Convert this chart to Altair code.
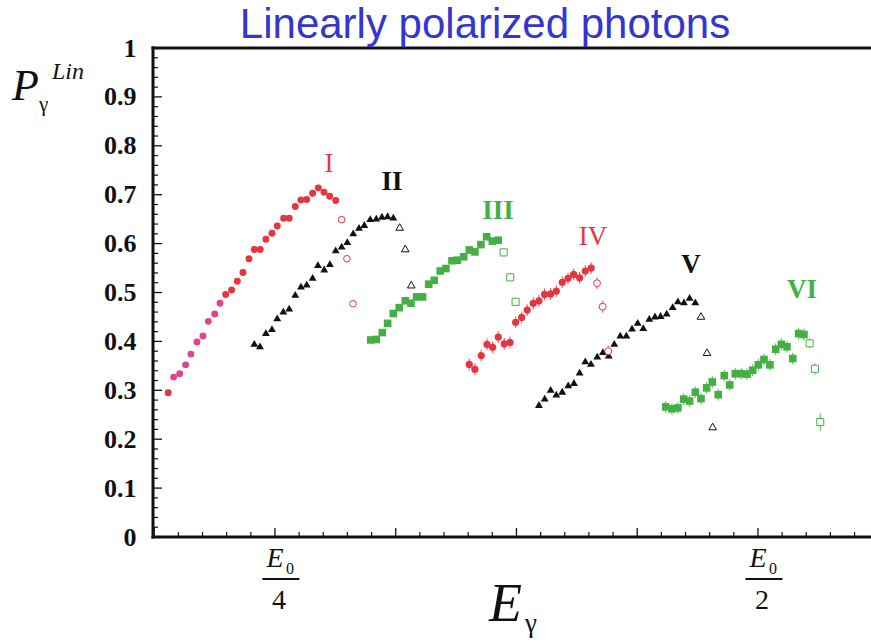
import altair as alt
import pandas as pd
import numpy as np

# ---------------- data (x in units of E0/16, so E0/4 = 4 and E0/2 = 8) -------------
I_x = [3.116, 3.161, 3.211, 3.260, 3.304, 3.354, 3.404, 3.448, 3.501, 3.545, 3.592, 3.641,
       3.688, 3.735, 3.785, 3.829, 3.878, 3.925, 3.975, 4.019, 4.072, 4.118, 4.168, 4.215,
       4.263, 4.312, 4.359, 4.406, 4.453, 4.503]
I_y = [0.295, 0.327, 0.334, 0.352, 0.374, 0.399, 0.411, 0.441, 0.456, 0.478, 0.496, 0.505,
       0.523, 0.541, 0.569, 0.588, 0.588, 0.609, 0.621, 0.636, 0.652, 0.652, 0.676, 0.689,
       0.690, 0.703, 0.714, 0.705, 0.697, 0.688]
I_pink = [0, 1, 1, 1, 1, 1, 1, 1, 1, 1, 0, 0, 0, 0, 0, 0, 0, 0, 0, 0, 0, 0, 0, 0, 0, 0, 0, 0, 0, 0]
I_open_x = [4.552, 4.596, 4.646]
I_open_y = [0.649, 0.569, 0.477]

II_x = [3.829, 3.876, 3.925, 3.975, 4.019, 4.069, 4.118, 4.168, 4.215, 4.263, 4.312, 4.356,
        4.408, 4.455, 4.503, 4.552, 4.599, 4.648, 4.696, 4.740, 4.789, 4.839, 4.886, 4.933, 4.980]
II_y = [0.396, 0.391, 0.418, 0.426, 0.448, 0.462, 0.468, 0.496, 0.513, 0.517, 0.531, 0.557,
        0.548, 0.559, 0.587, 0.595, 0.604, 0.622, 0.633, 0.639, 0.651, 0.652, 0.656, 0.657, 0.654]
II_open_x = [5.033, 5.079, 5.129]
II_open_y = [0.634, 0.590, 0.516]

III_x = [4.793, 4.839, 4.889, 4.933, 4.980, 5.029, 5.079, 5.126, 5.173, 5.223, 5.273, 5.319,
         5.369, 5.416, 5.466, 5.510, 5.563, 5.609, 5.656, 5.706, 5.753, 5.800, 5.849]
III_y = [0.403, 0.404, 0.418, 0.437, 0.457, 0.469, 0.483, 0.478, 0.491, 0.491, 0.517, 0.525,
         0.544, 0.549, 0.565, 0.566, 0.573, 0.587, 0.583, 0.598, 0.614, 0.605, 0.607]
III_open_x = [5.894, 5.948, 5.993]
III_open_y = [0.582, 0.531, 0.481]

IV_x = [5.609, 5.656, 5.708, 5.756, 5.803, 5.849, 5.899, 5.946, 5.993, 6.043, 6.089, 6.139,
        6.186, 6.233, 6.283, 6.330, 6.379, 6.427, 6.474, 6.523, 6.570, 6.619]
IV_y = [0.353, 0.343, 0.371, 0.394, 0.388, 0.409, 0.395, 0.398, 0.439, 0.449, 0.464, 0.478,
        0.483, 0.496, 0.497, 0.503, 0.521, 0.529, 0.537, 0.530, 0.544, 0.550]
IV_open_x = [6.667, 6.714, 6.760]
IV_open_y = [0.519, 0.471, 0.380]

V_x = [6.186, 6.234, 6.283, 6.330, 6.379, 6.429, 6.476, 6.523, 6.570, 6.617, 6.669, 6.716,
       6.764, 6.810, 6.860, 6.910, 6.957, 7.004, 7.050, 7.100, 7.147, 7.194, 7.244, 7.294,
       7.337, 7.387, 7.434, 7.481]
V_y = [0.271, 0.284, 0.302, 0.292, 0.298, 0.311, 0.316, 0.337, 0.360, 0.355, 0.370, 0.379,
       0.372, 0.396, 0.413, 0.413, 0.427, 0.439, 0.428, 0.447, 0.452, 0.453, 0.458, 0.471,
       0.483, 0.481, 0.490, 0.481]
V_open_x = [7.528, 7.578, 7.625]
V_open_y = [0.452, 0.378, 0.226]

VI_x = [7.236, 7.288, 7.337, 7.385, 7.434, 7.481, 7.528, 7.575, 7.622, 7.671, 7.721, 7.766,
        7.812, 7.862, 7.909, 7.956, 8.003, 8.050, 8.099, 8.147, 8.194, 8.240, 8.288, 8.337, 8.381]
VI_y = [0.266, 0.262, 0.264, 0.282, 0.278, 0.296, 0.283, 0.305, 0.317, 0.291, 0.330, 0.311,
        0.334, 0.334, 0.333, 0.341, 0.352, 0.363, 0.352, 0.384, 0.394, 0.389, 0.365, 0.416, 0.414]
VI_open_x = [8.428, 8.472, 8.516]
VI_open_y = [0.396, 0.344, 0.235]
VI_open_err = [0.010, 0.012, 0.018]

ERR_IV = 0.012
ERR_VI = 0.012
ERR_III_OPEN = 0.008

labels_text = ["I", "II", "III", "IV", "V", "VI"]
labels_x = [4.447, 4.969, 5.847, 6.634, 7.445, 8.364]
labels_y = [0.746, 0.710, 0.650, 0.597, 0.540, 0.489]

frac_x = [4, 8]
frac_den = ["4", "2"]

y_major = [round(v, 1) for v in np.arange(0, 1.01, 0.1)]
y_minor = [round(v, 2) for v in np.arange(0, 1.001, 0.02) if round(v * 50) % 5 != 0]
x_major = [3, 4, 5, 6, 7, 8]
x_minor = [round(v, 1) for v in np.arange(3.0, 8.95, 0.2) if abs(v - round(v)) > 0.01]

# ---------------- styling ----------------
RED = "#e5363f"
PINK = "#e0438f"
GREEN = "#44b044"
BLACK = "#111111"
SERIF = "Liberation Serif"

W, H = 718, 489
XD = [2.99, 2.99 + W / 120.75]

rows = []


def add(xs, ys, kind, color, shape, size, err=0.0, colors=None, errs=None):
    for i, (a, b) in enumerate(zip(xs, ys)):
        e = errs[i] if errs is not None else err
        rows.append(dict(x=a, y=b, kind=kind,
                         color=(colors[i] if colors is not None else color),
                         shape=shape, size=size, err=e))


add(I_x, I_y, "filled", RED, "circle", 48, colors=[PINK if p else RED for p in I_pink])
add(I_open_x, I_open_y, "open", RED, "circle", 44)
add(II_x, II_y, "filled", BLACK, "triangle-up", 62)
add(II_open_x, II_open_y, "open", BLACK, "triangle-up", 58)
add(III_x, III_y, "filled", GREEN, "square", 58)
add(III_open_x, III_open_y, "open", GREEN, "square", 50, err=ERR_III_OPEN)
add(IV_x, IV_y, "filled", RED, "circle", 52, err=ERR_IV)
add(IV_open_x, IV_open_y, "open", RED, "circle", 48, err=ERR_IV)
add(V_x, V_y, "filled", BLACK, "triangle-up", 62)
add(V_open_x, V_open_y, "open", BLACK, "triangle-up", 58)
add(VI_x, VI_y, "filled", GREEN, "square", 58, err=ERR_VI)
add(VI_open_x, VI_open_y, "open", GREEN, "square", 50, errs=VI_open_err)

df = pd.DataFrame(rows)
df["lo"] = df["y"] - df["err"]
df["hi"] = df["y"] + df["err"]

xs = alt.Scale(domain=XD, nice=False, zero=False)
ys = alt.Scale(domain=[0, 1], nice=False, zero=False)
yaxis = alt.Axis(values=y_major, format=".1~f", labelFont=SERIF, labelFontWeight="bold",
                 labelFontSize=26, labelColor=BLACK, labelPadding=17, ticks=False,
                 domain=False, grid=False, title=None, labelFlush=False, labelOverlap=False)


def X(f):
    return alt.X(f, scale=xs, axis=None)


def Y(f):
    return alt.Y(f, scale=ys, axis=yaxis)


base = alt.Chart(df)

errbars = base.transform_filter("datum.err > 0").mark_rule(strokeWidth=1, opacity=0.9).encode(
    x=X("x:Q"), y=Y("lo:Q"), y2="hi:Q", color=alt.Color("color:N", scale=None))

filled = base.transform_filter("datum.kind == 'filled'").mark_point(
    filled=True, opacity=1, strokeWidth=0).encode(
    x=X("x:Q"), y=Y("y:Q"),
    shape=alt.Shape("shape:N", scale=None),
    color=alt.Color("color:N", scale=None),
    size=alt.Size("size:Q", scale=None))

opened = base.transform_filter("datum.kind == 'open'").mark_point(
    filled=True, fill="white", opacity=1, strokeWidth=1).encode(
    x=X("x:Q"), y=Y("y:Q"),
    shape=alt.Shape("shape:N", scale=None),
    stroke=alt.Stroke("color:N", scale=None),
    size=alt.Size("size:Q", scale=None))

# inside ticks
ymaj = alt.Chart(pd.DataFrame({"v": y_major})).mark_rule(strokeWidth=1.3, color=BLACK).encode(
    y=Y("v:Q"), x=alt.value(0), x2=alt.value(9))
ymin = alt.Chart(pd.DataFrame({"v": y_minor})).mark_rule(strokeWidth=1.2, color=BLACK).encode(
    y=Y("v:Q"), x=alt.value(0), x2=alt.value(5))
xmaj = alt.Chart(pd.DataFrame({"v": x_major})).mark_rule(strokeWidth=1.3, color=BLACK).encode(
    x=X("v:Q"), y=alt.value(H), y2=alt.value(H - 9))
xmin = alt.Chart(pd.DataFrame({"v": x_minor})).mark_rule(strokeWidth=1.2, color=BLACK).encode(
    x=X("v:Q"), y=alt.value(H), y2=alt.value(H - 5))

one = alt.Chart(pd.DataFrame({"k": [0]}))
frame_left = one.mark_rule(strokeWidth=3, color=BLACK).encode(
    x=alt.value(0), y=alt.value(-1.5), y2=alt.value(H + 1.5))
frame_bottom = one.mark_rule(strokeWidth=3, color=BLACK).encode(
    x=alt.value(-1.5), x2=alt.value(W), y=alt.value(H))
frame_top = one.mark_rule(strokeWidth=3, color=BLACK).encode(
    x=alt.value(-1.5), x2=alt.value(W), y=alt.value(0))

# series labels
lab = pd.DataFrame({"x": labels_x, "y": labels_y, "t": labels_text,
                    "c": [RED, BLACK, GREEN, RED, BLACK, GREEN]})
labels_red = alt.Chart(lab).transform_filter("datum.c == '%s'" % RED).mark_text(
    font=SERIF, fontSize=27, fontWeight="normal", align="center", baseline="alphabetic").encode(
    x=X("x:Q"), y=Y("y:Q"), text="t:N", color=alt.Color("c:N", scale=None))
labels_bold = alt.Chart(lab).transform_filter("datum.c != '%s'" % RED).mark_text(
    font=SERIF, fontSize=27, fontWeight="bold", align="center", baseline="alphabetic").encode(
    x=X("x:Q"), y=Y("y:Q"), text="t:N", color=alt.Color("c:N", scale=None))

# fraction tick labels E0/4 and E0/2
fr = alt.Chart(pd.DataFrame({"x": frac_x, "d": frac_den}))
frE = fr.mark_text(font=SERIF, fontStyle="italic", fontSize=28, align="center",
                   baseline="alphabetic", color=BLACK, dx=0).encode(
    x=X("x:Q"), y=alt.value(H + 30), text=alt.value("E"))
fr0 = fr.mark_text(font=SERIF, fontSize=16, align="center", baseline="alphabetic",
                   color=BLACK, dx=15).encode(
    x=X("x:Q"), y=alt.value(H + 37), text=alt.value("0"))
frBar = fr.mark_rule(strokeWidth=2, color=BLACK, xOffset=-12.5, x2Offset=24.5).encode(
    x=X("x:Q"), x2="x", y=alt.value(H + 42))
frD = fr.mark_text(font=SERIF, fontSize=28, align="center", baseline="alphabetic",
                   color=BLACK, dx=4).encode(
    x=X("x:Q"), y=alt.value(H + 72), text="d:N")

# axis titles and chart title
def txt(s, x, y, size, style="normal", font=SERIF, color=BLACK, align="left"):
    return one.mark_text(font=font, fontSize=size, fontStyle=style, align=align,
                         baseline="alphabetic", color=color).encode(
        x=alt.value(x), y=alt.value(y), text=alt.value(s))


P_t = txt("P", -141, 52, 44, "italic")
P_g = txt("γ", -114, 63, 21)
P_l = txt("Lin", -101, 31, 24, "italic")
E_t = txt("E", 336, 573, 54, "italic")
E_g = txt("γ", 372, 584, 27)
title = txt("Linearly polarized photons", 332, -10, 42, font="Liberation Sans",
            color="#3535cf", align="center")

chart = alt.layer(
    errbars, filled, opened, ymaj, ymin, xmaj, xmin, frame_left, frame_bottom, frame_top,
    labels_red, labels_bold, frE, fr0, frBar, frD, P_t, P_g, P_l, E_t, E_g, title
).properties(
    width=W, height=H,
    autosize=alt.AutoSizeParams(type="none"),
    padding={"left": 153, "top": 48, "right": 0, "bottom": 642 - 48 - H},
    background="white",
).configure_view(stroke=None)

chart.save("out.html", embed_options={"renderer": "svg", "actions": False})
